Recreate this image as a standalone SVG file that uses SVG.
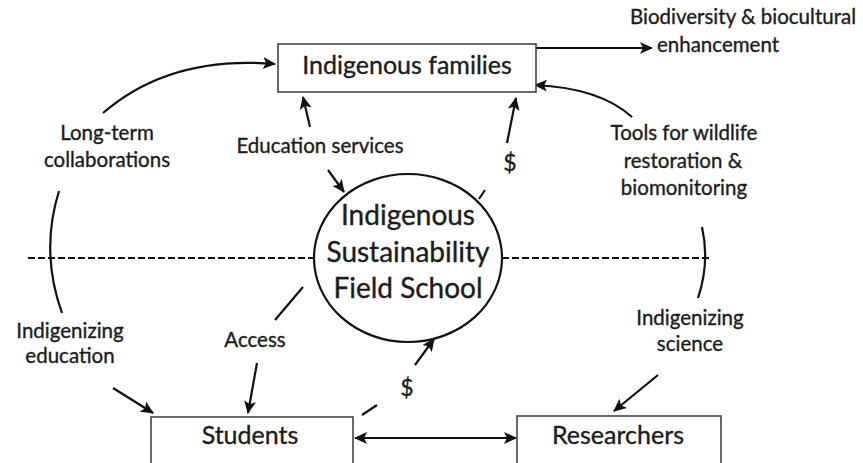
<svg xmlns="http://www.w3.org/2000/svg" width="863" height="463" viewBox="0 0 863 463">
<defs>
<marker id="ah" markerUnits="userSpaceOnUse" markerWidth="14" markerHeight="12" refX="12" refY="6" orient="auto-start-reverse">
<path d="M0,0 L13,6 L0,12 L3,6 z" fill="#111"/>
</marker>
<style>
text{stroke:#1c1c1c;stroke-width:0.35}
.lbl{font-family:Lato,"Open Sans",sans-serif;font-size:20.5px;fill:#1c1c1c;text-anchor:middle}
.box{fill:#fff;stroke:#444;stroke-width:1.6}
.boxt{font-family:Lato,"Open Sans",sans-serif;font-size:25px;fill:#1c1c1c;text-anchor:middle}
.ct{font-family:Lato,"Open Sans",sans-serif;font-size:28px;fill:#1c1c1c;text-anchor:middle}
.c{fill:none;stroke:#111;stroke-width:2.2}
.a{fill:none;stroke:#111;stroke-width:2.2;marker-end:url(#ah)}
.d{fill:none;stroke:#111;stroke-width:2;stroke-dasharray:7 3}
</style>
</defs>
<rect width="863" height="463" fill="#fff"/>
<g id="connectors">
<line class="d" x1="28" y1="258" x2="315" y2="258"/>
<line class="d" x1="502" y1="258" x2="712" y2="258"/>
<path class="a" d="M103,113 Q170,55 275,64"/>
<path class="c" d="M59,191 Q40,252 62,313"/>
<line class="a" x1="113" y1="388" x2="153" y2="413"/>
<path class="a" d="M632,117 Q600,88 535,85"/>
<path class="c" d="M702,227 Q710,262 698,298"/>
<line class="a" x1="658" y1="375" x2="614" y2="411"/>
<line class="a" x1="536" y1="48" x2="652" y2="48"/>
<line class="a" x1="310" y1="127" x2="303" y2="97"/>
<line class="a" x1="328" y1="170" x2="344" y2="192"/>
<line class="a" x1="507" y1="143" x2="516" y2="98"/>
<line class="c" x1="479" y1="199" x2="485" y2="190"/>
<line class="c" x1="303" y1="287" x2="275" y2="320"/>
<line class="a" x1="257" y1="363" x2="248" y2="413"/>
<line class="c" x1="362" y1="415" x2="377" y2="405"/>
<line class="a" x1="415" y1="365" x2="434" y2="339"/>
<line class="a" x1="355" y1="438" x2="516" y2="438" marker-start="url(#ah)"/>
</g>
<g id="families">
<rect class="box" x="278" y="44" width="258" height="48"/>
<text class="boxt" x="407" y="74">Indigenous families</text>
</g>
<g id="school">
<ellipse cx="408" cy="258" rx="94" ry="84" fill="#fff" stroke="#111" stroke-width="2.2"/>
<text class="ct" x="408" y="225">Indigenous</text>
<text class="ct" x="408" y="262">Sustainability</text>
<text class="ct" x="408" y="298">Field School</text>
</g>
<g id="students">
<rect class="box" x="151" y="417" width="202" height="52"/>
<text class="boxt" x="250" y="444">Students</text>
</g>
<g id="researchers">
<rect class="box" x="517" y="416" width="204" height="53"/>
<text class="boxt" x="618" y="444">Researchers</text>
</g>
<g id="labels">
<text class="lbl" x="743" y="24">Biodiversity &amp; biocultural</text>
<text class="lbl" x="718" y="52">enhancement</text>
<text class="lbl" x="107" y="140">Long-term</text>
<text class="lbl" x="107" y="167">collaborations</text>
<text class="lbl" x="320" y="153">Education services</text>
<text class="lbl" x="684" y="140">Tools for wildlife</text>
<text class="lbl" x="683" y="168">restoration &amp;</text>
<text class="lbl" x="684" y="195">biomonitoring</text>
<text class="lbl" x="510" y="171" style="font-size:23px">$</text>
<text class="lbl" x="70" y="338">Indigenizing</text>
<text class="lbl" x="70" y="363">education</text>
<text class="lbl" x="255" y="347">Access</text>
<text class="lbl" x="407" y="396" style="font-size:23px">$</text>
<text class="lbl" x="690" y="325">Indigenizing</text>
<text class="lbl" x="690" y="351">science</text>
</g>
</svg>
